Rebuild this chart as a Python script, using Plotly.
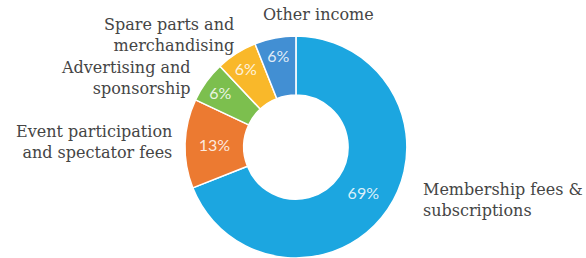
import plotly.graph_objects as go

# ---- data ----
categories = [
    "Membership fees &<br>subscriptions",
    "Event participation<br>and spectator fees",
    "Advertising and<br>sponsorship",
    "Spare parts and<br>merchandising",
    "Other income",
]
values = [69, 13, 6, 6, 6]
colors = ["#1ca6e0", "#ec7a31", "#7cbf4e", "#f9b82a", "#428fd3"]

# label placement (pixel anchor x, centre y of block, alignment)
W, H = 586, 258
label_pos = [
    (422, 200, "left"),
    (173, 141.5, "right"),
    (192, 78, "right"),
    (235, 35, "right"),
    (262, 15, "left"),
]

fig = go.Figure(go.Pie(
    labels=categories,
    values=values,
    sort=False,
    direction="clockwise",
    rotation=0,
    hole=0.47,
    marker=dict(colors=colors, line=dict(color="white", width=1.5)),
    texttemplate="%{value}%",
    textposition="inside",
    insidetextorientation="horizontal",
    textfont=dict(family="Lato", size=16, color="rgba(255,255,255,0.85)"),
    showlegend=False,
    domain=dict(x=[0.3, 0.71], y=[0, 0.86]),
))

annotations = []
for cat, (px, cy, al) in zip(categories, label_pos):
    annotations.append(dict(
        x=px / W, y=1 - cy / H, xref="paper", yref="paper",
        text=cat, showarrow=False, align=al,
        xanchor="left" if al == "left" else "right",
        yanchor="middle", borderpad=0,
        font=dict(family="DejaVu Serif", size=16, color="#454545"),
    ))

fig.update_layout(
    width=W, height=H,
    margin=dict(l=0, r=0, t=0, b=0),
    paper_bgcolor="white",
    plot_bgcolor="white",
    annotations=annotations,
)

fig.write_html(
    "out.html",
    config={"displayModeBar": False},
    post_script="document.body.style.margin='0';document.body.style.overflow='hidden';",
)
